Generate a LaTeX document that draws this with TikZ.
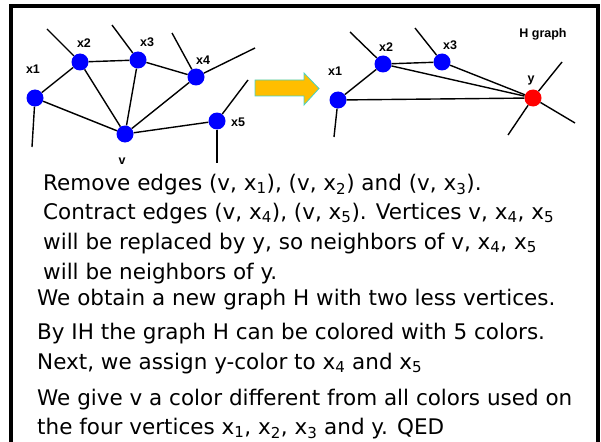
\documentclass[tikz,border=0pt]{standalone}
\usepackage{fontspec}
\setmainfont{DejaVu Sans}
\newfontfamily\lblfont{Liberation Sans}
\usepackage{xcolor}
\definecolor{vblue}{RGB}{0,0,255}
\definecolor{vred}{RGB}{255,0,0}
\definecolor{arrfill}{RGB}{255,190,0}
\definecolor{arrline}{RGB}{70,210,200}

\begin{document}
\begin{tikzpicture}[x=1pt,y=-1pt,
  vtx/.style={circle,fill=vblue,inner sep=0pt,minimum size=17pt},
  ynode/.style={vtx,fill=vred},
  ln/.style={line width=1.4pt},
  lbl/.style={font=\lblfont\bfseries\fontsize{12.5}{14}\selectfont,inner sep=0pt},
  txt/.style={anchor=base west,inner sep=0pt,font=\fontsize{21.5}{26}\selectfont}]
\useasboundingbox (0,0) rectangle (601,441);
\draw[line width=4pt] (11.2,445) -- (11.2,5.7) -- (597.5,5.7) -- (597.5,445);

% graph G around v
\node[vtx] (x1) at (35,98) {};
\node[vtx] (x2) at (80,62) {};
\node[vtx] (x3) at (138,60) {};
\node[vtx] (x4) at (196,77) {};
\node[vtx] (x5) at (217,121) {};
\node[vtx] (v) at (125,134) {};
\coordinate (p1) at (32,147);
\coordinate (p2) at (47,29);
\coordinate (p3) at (112,25);
\coordinate (p4a) at (172,33);
\coordinate (p4b) at (255,48);
\coordinate (p5a) at (248,80);
\coordinate (p5b) at (217,163);
\draw[ln] (x1) -- (x2) -- (x3) -- (x4);
\draw[ln] (v) -- (x1);
\draw[ln] (v) -- (x2);
\draw[ln] (v) -- (x3);
\draw[ln] (v) -- (x4);
\draw[ln] (v) -- (x5);
\draw[ln] (x1) -- (p1);
\draw[ln] (x2) -- (p2);
\draw[ln] (x3) -- (p3);
\draw[ln] (x4) -- (p4a);
\draw[ln] (x4) -- (p4b);
\draw[ln] (x5) -- (p5a);
\draw[ln] (x5) -- (p5b);
\node[lbl] (lx1) at (33,69) {x1};
\node[lbl] (lx2) at (84,43) {x2};
\node[lbl] (lx3) at (147,42) {x3};
\node[lbl] (lx4) at (203,60) {x4};
\node[lbl] (lx5) at (238,122) {x5};
\node[lbl] (lv) at (122,161) {v};

% block arrow
\filldraw[fill=arrfill,draw=arrline,line width=0.8pt] (255,80) -- (304,80) -- (304,73) -- (319,88.5) -- (304,105) -- (304,96) -- (255,96) -- cycle;

% graph H
\node[vtx] (h1) at (338,100) {};
\node[vtx] (h2) at (383,64) {};
\node[vtx] (h3) at (442,62) {};
\node[ynode] (y) at (533,98) {};
\coordinate (q1) at (334,137);
\coordinate (q2) at (350,32);
\coordinate (q3) at (415,28);
\coordinate (qa) at (562,62);
\coordinate (qb) at (508,135);
\coordinate (qc) at (575,123);
\draw[ln] (h1) -- (h2) -- (h3);
\draw[ln] (h1) -- (y);
\draw[ln] (h2) -- (y);
\draw[ln] (h3) -- (y);
\draw[ln] (h1) -- (q1);
\draw[ln] (h2) -- (q2);
\draw[ln] (h3) -- (q3);
\draw[ln] (y) -- (qa);
\draw[ln] (y) -- (qb);
\draw[ln] (y) -- (qc);
\node[lbl] (lh1) at (335,71) {x1};
\node[lbl] (lh2) at (386,47) {x2};
\node[lbl] (lh3) at (450,45) {x3};
\node[lbl] (ly) at (531,80) {y};
\node[lbl] (title) at (543,34) {H graph};

% proof text
\node[txt] (t1) at (43,190) {Remove edges (v, x\textsubscript{1}), (v, x\textsubscript{2}) and (v, x\textsubscript{3}).};
\node[txt] (t2) at (43,219) {Contract edges (v, x\textsubscript{4}), (v, x\textsubscript{5}). Vertices v, x\textsubscript{4}, x\textsubscript{5}};
\node[txt] (t3) at (43,249) {will be replaced by y, so neighbors of v, x\textsubscript{4}, x\textsubscript{5}};
\node[txt] (t4) at (43,279) {will be neighbors of y.};
\node[txt] (t5) at (37,305) {We obtain a new graph H with two less vertices.};
\node[txt] (t6) at (37,339) {By IH the graph H can be colored with 5 colors.};
\node[txt] (t7) at (37,369) {Next, we assign y-color to x\textsubscript{4} and x\textsubscript{5}};
\node[txt] (t8) at (37,405) {We give v a color different from all colors used on};
\node[txt] (t9) at (37,434) {the four vertices x\textsubscript{1}, x\textsubscript{2}, x\textsubscript{3} and y. QED};
\end{tikzpicture}
\end{document}
